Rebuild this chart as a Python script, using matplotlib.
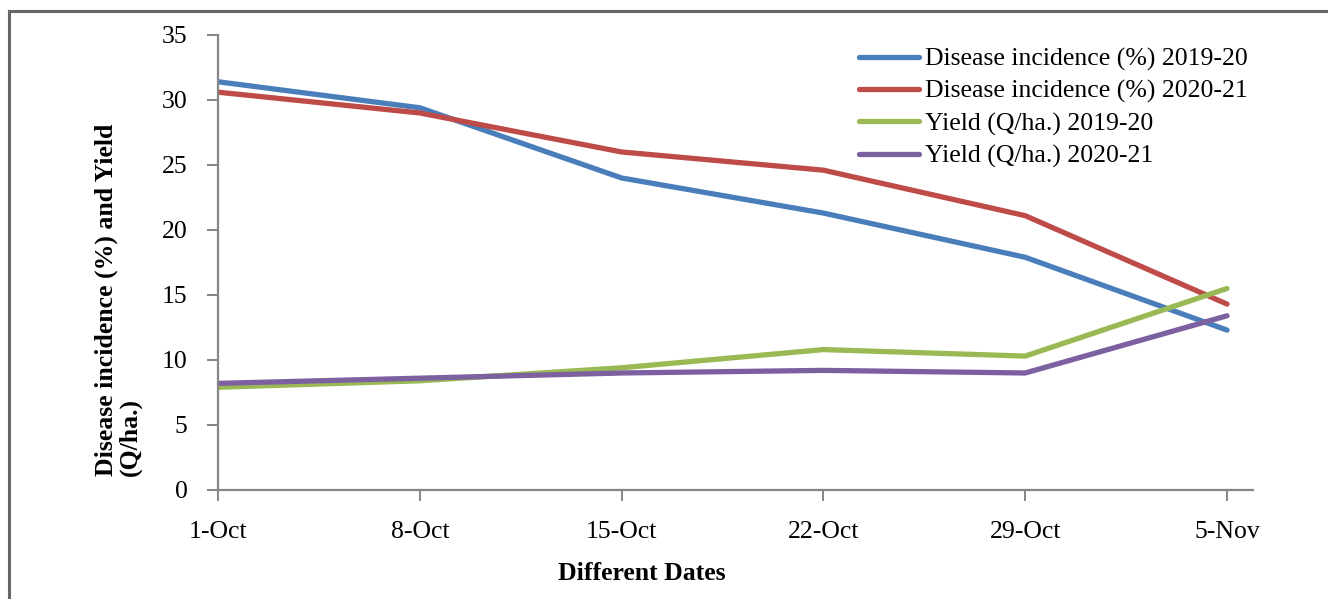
import pandas as pd
import matplotlib
matplotlib.use('Agg')
import matplotlib.pyplot as plt
import matplotlib.dates as mdates
from matplotlib.lines import Line2D

plt.rcParams['font.family'] = ['Liberation Serif', 'DejaVu Serif']

# data
dates = ['2020-10-01', '2020-10-08', '2020-10-15', '2020-10-22', '2020-10-29', '2020-11-05']
di_2019 = [31.4, 29.4, 24.0, 21.3, 17.9, 12.3]
di_2020 = [30.6, 29.0, 26.0, 24.6, 21.1, 14.3]
yield_2019 = [7.9, 8.4, 9.4, 10.8, 10.3, 15.5]
yield_2020 = [8.2, 8.6, 9.0, 9.2, 9.0, 13.4]

labels = ['Disease incidence (%) 2019-20', 'Disease incidence (%) 2020-21',
          'Yield (Q/ha.) 2019-20', 'Yield (Q/ha.) 2020-21']
colors = ['#4a7ebb', '#be4b48', '#98b954', '#7d60a0']

x = pd.to_datetime(dates)
fs = 18.5

fig = plt.figure(figsize=(13.28, 5.99), dpi=100)
ax = fig.add_axes([0.1642, 0.182, 0.7793, 0.7596])

for ys, lab, c in zip([di_2019, di_2020, yield_2019, yield_2020], labels, colors):
    ax.plot(x, ys, color=c, lw=3.8, label=lab, solid_capstyle='round')

ax.set_ylim(0, 35)
ax.set_yticks(range(0, 36, 5))
ax.set_xlim(x[0], x[-1] + pd.Timedelta(days=0.9))
ax.set_xticks(x)
ax.xaxis.set_major_formatter(mdates.DateFormatter('%-d-%b'))

gray = '#868686'
for s in ['top', 'right']:
    ax.spines[s].set_visible(False)
for s in ['left', 'bottom']:
    ax.spines[s].set_color(gray)
    ax.spines[s].set_linewidth(1.6)
ax.tick_params(axis='both', colors=gray, length=8, width=1.4, labelsize=fs,
               labelcolor='black')
ax.tick_params(axis='x', pad=14)
ax.tick_params(axis='y', pad=14)

leg = ax.legend(loc='upper left', bbox_to_anchor=(0.609, 0.995), frameon=False,
                fontsize=fs, handlelength=2.35, handletextpad=0.25,
                labelspacing=0.35, borderaxespad=0)
for h in leg.get_lines():
    h.set_solid_capstyle('round')

fig.text(0.089, 0.50, 'Disease incidence (%) and Yield\n(Q/ha.)', rotation=90,
         ha='center', va='center', multialignment='left', fontsize=fs,
         fontweight='bold', linespacing=1.0)
fig.text(0.483, 0.043, 'Different Dates', ha='center', va='center',
         fontsize=fs, fontweight='bold')

# outer frame (left and top edges only)
fig.add_artist(Line2D([0.0068, 0.0068], [0, 0.982], color='#666666', lw=2.2))
fig.add_artist(Line2D([0.0068, 1.0], [0.982, 0.982], color='#666666', lw=2.2))

fig.savefig('out.png', dpi=100)
